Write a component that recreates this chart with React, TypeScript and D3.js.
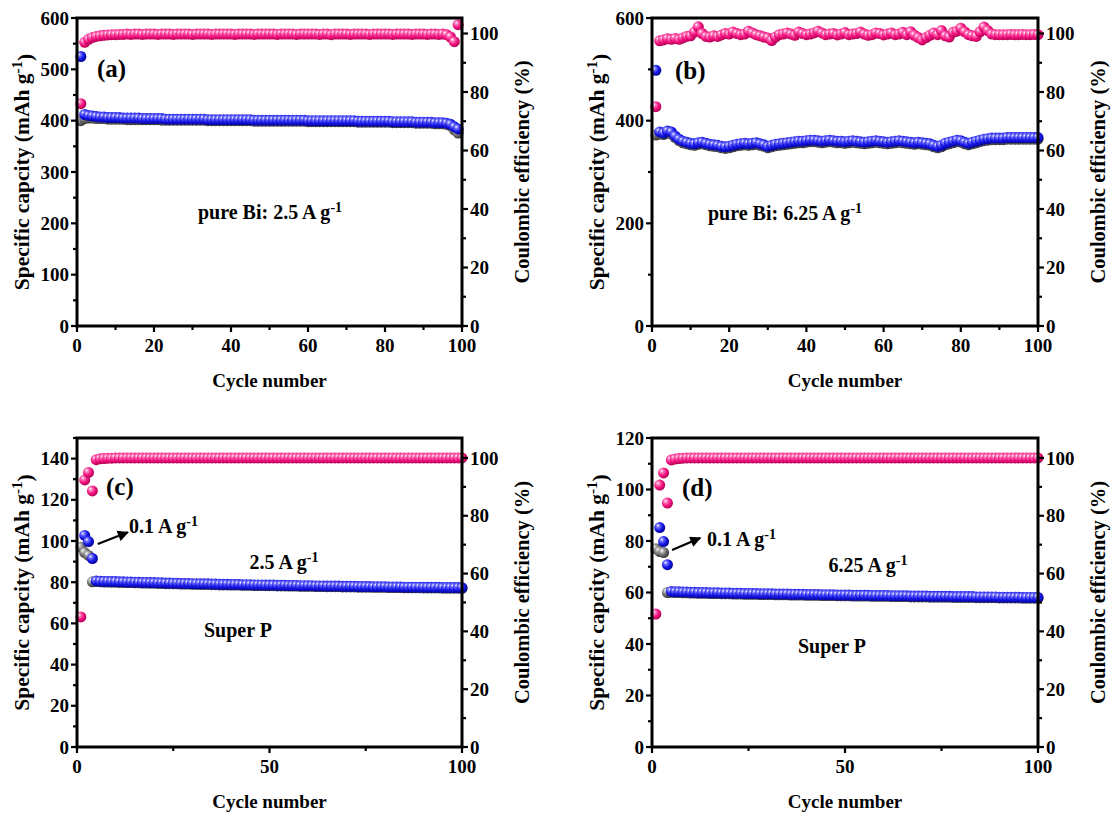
import React from 'react';
import * as d3 from 'd3';

const W = 1113, H = 816;
const FONT = "'Liberation Serif','Times New Roman',serif";

// ---------- Data ----------
// (a) pure Bi, 2.5 A/g, cycles 1..99
const aDischarge = [525,412,410,409,408,407,407,406,406,406, 406,405,405,405,405,405,404,404,404,404, 404,404,403,403,403,403,403,403,403,403, 403,403,403,402,402,402,402,402,402,402, 402,402,402,402,402,401,401,401,401,401, 401,401,401,401,401,401,401,401,401,400, 400,400,400,400,400,400,400,400,400,400, 400,400,399,399,399,399,399,399,399,399, 399,398,398,398,398,398,398,397,397,397, 397,397,396,396,396,395,393,388,384];
const aCharge = [400,404,405,405,404,404,404,403,403,403, 403,403,402,402,402,402,402,402,402,402, 402,401,401,401,401,401,401,401,401,401, 401,401,401,400,400,400,400,400,400,400, 400,400,400,400,400,399,399,399,399,399, 399,399,399,399,399,399,399,399,399,398, 398,398,398,398,398,398,398,398,398,398, 398,398,397,397,397,397,397,397,397,397, 397,396,396,396,396,396,396,395,395,395, 395,395,394,394,394,393,390,382,376];
const aCE = [76,97,98,98.6,99,99.2,99.4,99.5,99.6,99.6, 99.7,99.7,99.8,99.7,99.8,99.8,99.7,99.8,99.8,99.8, 99.7,99.8,99.8,99.8,99.7,99.8,99.8,99.8,99.8,99.7, 99.8,99.8,99.8,99.8,99.7,99.8,99.8,99.8,99.8,99.8, 99.7,99.8,99.8,99.8,99.8,99.7,99.8,99.8,99.8,99.8, 99.8,99.7,99.8,99.8,99.8,99.8,99.7,99.8,99.8,99.8, 99.8,99.8,99.7,99.8,99.8,99.6,99.8,99.8,99.8,99.8, 99.7,99.8,99.8,99.8,99.8,99.7,99.8,99.8,99.8,99.8, 99.8,99.7,99.8,99.8,99.8,99.8,99.7,99.8,99.8,99.8, 99.7,99.8,99.8,99.7,99.8,99.6,98.8,97.2,103];

// (b) pure Bi, 6.25 A/g, cycles 1..100
const bDischarge = [498,378,376,380,378,370,364,360,358,356, 355,357,358,356,354,353,352,350,349,350, 352,354,355,356,355,356,357,355,353,350, 352,354,355,356,357,358,359,360,360,361, 362,362,361,360,361,362,361,360,360,359, 360,361,360,359,358,359,360,361,360,359, 358,359,360,361,360,359,358,357,358,357, 356,355,352,350,352,356,358,360,362,361, 358,356,358,360,362,364,365,366,366,366, 366,367,367,367,367,367,367,367,367,367];
const bCharge = [372,374,373,376,374,367,361,357,355,353, 352,354,355,353,351,350,349,347,346,347, 349,351,352,353,352,353,354,352,350,347, 349,351,352,353,354,355,356,357,357,358, 359,359,358,357,358,359,358,357,357,356, 357,358,357,356,355,356,357,358,357,356, 355,356,357,358,357,356,355,354,355,354, 353,352,349,347,349,353,355,357,359,358, 355,353,355,357,359,361,362,363,363,363, 363,364,364,364,364,364,364,364,364,364];
const bCE = [75,97.5,97.8,98.2,98,98.3,98,98.5,99,99.2, 100.5,102.3,100,99,98.8,99.2,99,99.5,100,99.8, 100.5,100,99.6,99.8,100.8,100.2,99.6,99.2,98.8,98.5, 97.6,98.8,99.6,99.8,100.2,99.8,99.4,100.5,100,99.6, 99.8,100.2,100.8,100.2,99.6,99.8,100,99.5,99.8,100.3, 99.6,99.8,100,100.5,99.8,99.4,99.6,100.2,100,99.5, 99.8,100.2,99.6,99.8,100.4,99.6,100.6,99.4,98.6,97.8, 98.6,99.4,100.2,99.6,101,99.2,98.8,100.4,100.8,101.8, 100.6,99.6,99.2,99,100.6,102.2,101,99.8,99.6,99.6, 99.6,99.6,99.7,99.6,99.6,99.7,99.6,99.6,99.7,99.6];

// (c) Super P, 0.1 A/g then 2.5 A/g, cycles 1..100
const cDischarge = [null,102.7,99.7,91.5,80.6,80.5,80.4,80.4,80.3,80.3, 80.2,80.2,80.1,80.1,80.0,80.0,79.9,79.9,79.8,79.8, 79.7,79.7,79.6,79.6,79.5,79.5,79.4,79.4,79.4,79.3, 79.3,79.2,79.2,79.2,79.1,79.1,79.0,79.0,79.0,78.9, 78.9,78.9,78.8,78.8,78.8,78.7,78.7,78.7,78.6,78.6, 78.6,78.5,78.5,78.5,78.4,78.4,78.4,78.3,78.3,78.3, 78.3,78.2,78.2,78.2,78.1,78.1,78.1,78.1,78.0,78.0, 78.0,78.0,77.9,77.9,77.9,77.9,77.8,77.8,77.8,77.8, 77.7,77.7,77.7,77.7,77.6,77.6,77.6,77.6,77.6,77.5, 77.5,77.5,77.5,77.5,77.4,77.4,77.4,77.4,77.4,77.3];
const cCharge = [97,94.4,93,80.2,80.3,80.2,80.1,80.1,80.0,80.0, 79.9,79.9,79.8,79.8,79.7,79.7,79.6,79.6,79.5,79.5, 79.4,79.4,79.3,79.3,79.2,79.2,79.1,79.1,79.1,79.0, 79.0,78.9,78.9,78.9,78.8,78.8,78.7,78.7,78.7,78.6, 78.6,78.6,78.5,78.5,78.5,78.4,78.4,78.4,78.3,78.3, 78.3,78.2,78.2,78.2,78.1,78.1,78.1,78.0,78.0,78.0, 78.0,77.9,77.9,77.9,77.8,77.8,77.8,77.8,77.7,77.7, 77.7,77.7,77.6,77.6,77.6,77.6,77.5,77.5,77.5,77.5, 77.4,77.4,77.4,77.4,77.3,77.3,77.3,77.3,77.3,77.2, 77.2,77.2,77.2,77.2,77.1,77.1,77.1,77.1,77.1,77.0];
const cCE = [45,92.4,95,88.6,99.4,99.7,99.8,99.9,99.9,100, 100,100,100,100,100,100,100,100,100,100, 100,100,100,100,100,100,100,100,100,100, 100,100,100,100,100,100,100,100,100,100, 100,100,100,100,100,100,100,100,100,100, 100,100,100,100,100,100,100,100,100,100, 100,100,100,100,100,100,100,100,100,100, 100,100,100,100,100,100,100,100,100,100, 100,100,100,100,100,100,100,100,100,100, 100,100,100,100,100,100,100,100,100,100];

// (d) Super P, 0.1 A/g then 6.25 A/g, cycles 1..100
const dDischarge = [null,85.2,79.8,70.8,60.4,60.3,60.3,60.2,60.2,60.1, 60.1,60.0,60.0,60.0,59.9,59.9,59.9,59.8,59.8,59.8, 59.7,59.7,59.7,59.6,59.6,59.6,59.6,59.5,59.5,59.5, 59.5,59.4,59.4,59.4,59.4,59.3,59.3,59.3,59.3,59.2, 59.2,59.2,59.2,59.1,59.1,59.1,59.1,59.0,59.0,59.0, 59.0,58.9,58.9,58.9,58.9,58.9,58.8,58.8,58.8,58.8, 58.8,58.7,58.7,58.7,58.7,58.7,58.6,58.6,58.6,58.6, 58.6,58.5,58.5,58.5,58.5,58.5,58.5,58.4,58.4,58.4, 58.4,58.4,58.4,58.3,58.3,58.3,58.3,58.3,58.3,58.2, 58.2,58.2,58.2,58.2,58.2,58.1,58.1,58.1,58.1,58.1];
const dCharge = [77,75.9,75.5,60.0,60.1,60.0,60.0,59.9,59.9,59.8, 59.8,59.7,59.7,59.7,59.6,59.6,59.6,59.5,59.5,59.5, 59.4,59.4,59.4,59.3,59.3,59.3,59.3,59.2,59.2,59.2, 59.2,59.1,59.1,59.1,59.1,59.0,59.0,59.0,59.0,58.9, 58.9,58.9,58.9,58.8,58.8,58.8,58.8,58.7,58.7,58.7, 58.7,58.6,58.6,58.6,58.6,58.6,58.5,58.5,58.5,58.5, 58.5,58.4,58.4,58.4,58.4,58.4,58.3,58.3,58.3,58.3, 58.3,58.2,58.2,58.2,58.2,58.2,58.2,58.1,58.1,58.1, 58.1,58.1,58.1,58.0,58.0,58.0,58.0,58.0,58.0,57.9, 57.9,57.9,57.9,57.9,57.9,57.8,57.8,57.8,57.8,57.8];
const dCE = [46,90.6,94.8,84.4,99.3,99.6,99.8,99.9,100,100, 100,100,100,100,100,100,100,100,100,100, 100,100,100,100,100,100,100,100,100,100, 100,100,100,100,100,100,100,100,100,100, 100,100,100,100,100,100,100,100,100,100, 100,100,100,100,100,100,100,100,100,100, 100,100,100,100,100,100,100,100,100,100, 100,100,100,100,100,100,100,100,100,100, 100,100,100,100,100,100,100,100,100,100, 100,100,100,100,100,100,100,100,100,100];

// tick settings
const xTicksTop = [0, 20, 40, 60, 80, 100];
const xTicksBottom = [0, 50, 100];
const ceTicks = [0, 20, 40, 60, 80, 100];

type Ann = { text: string; sup?: string; x: number; y: number; size: number; anchor?: string };
type PanelDef = {
  box: { l: number; r: number; t: number; b: number };
  yMax: number; yMajor: number; yMinor: number;
  y2Max: number;
  xMajor: number[]; xMinorStep: number;
  charge: (number | null)[]; discharge: (number | null)[]; ce: (number | null)[];
  anns: Ann[];
  arrow?: { x1: number; y1: number; x2: number; y2: number };
};

const ANN_FS = 20;

const panels: PanelDef[] = [
  {
    box: { l: 77, r: 462, t: 18, b: 326 }, yMax: 600, yMajor: 100, yMinor: 50, y2Max: 105.3,
    xMajor: xTicksTop, xMinorStep: 10,
    charge: aCharge, discharge: aDischarge, ce: aCE,
    anns: [
      { text: '(a)', x: 97, y: 77, size: 25 },
      { text: 'pure Bi: 2.5 A g', sup: '-1', x: 270, y: 219, size: ANN_FS, anchor: 'middle' },
    ],
  },
  {
    box: { l: 652, r: 1038, t: 18, b: 326 }, yMax: 600, yMajor: 200, yMinor: 100, y2Max: 105.3,
    xMajor: xTicksTop, xMinorStep: 10,
    charge: bCharge, discharge: bDischarge, ce: bCE,
    anns: [
      { text: '(b)', x: 675, y: 79, size: 25 },
      { text: 'pure Bi: 6.25 A g', sup: '-1', x: 785, y: 220, size: ANN_FS, anchor: 'middle' },
    ],
  },
  {
    box: { l: 77, r: 462, t: 438, b: 747 }, yMax: 150, yMajor: 20, yMinor: 10, y2Max: 106.9,
    xMajor: xTicksBottom, xMinorStep: 25,
    charge: cCharge, discharge: cDischarge, ce: cCE,
    anns: [
      { text: '(c)', x: 106, y: 495, size: 25 },
      { text: '0.1 A g', sup: '-1', x: 129, y: 533, size: ANN_FS },
      { text: '2.5 A g', sup: '-1', x: 284, y: 569, size: ANN_FS, anchor: 'middle' },
      { text: 'Super P', x: 238, y: 637, size: ANN_FS, anchor: 'middle' },
    ],
    arrow: { x1: 5.4, y1: 98.5, x2: 13.2, y2: 104.2 },
  },
  {
    box: { l: 652, r: 1038, t: 438, b: 747 }, yMax: 120, yMajor: 20, yMinor: 10, y2Max: 106.9,
    xMajor: xTicksBottom, xMinorStep: 25,
    charge: dCharge, discharge: dDischarge, ce: dCE,
    anns: [
      { text: '(d)', x: 682, y: 496, size: 25 },
      { text: '0.1 A g', sup: '-1', x: 707, y: 546, size: ANN_FS },
      { text: '6.25 A g', sup: '-1', x: 868, y: 572, size: ANN_FS, anchor: 'middle' },
      { text: 'Super P', x: 832, y: 653, size: ANN_FS, anchor: 'middle' },
    ],
    arrow: { x1: 5.2, y1: 76.5, x2: 12.5, y2: 81.2 },
  },
];

const R = 5.5;
const TICK_FS = 19;

function Panel({ p }: { p: PanelDef }) {
  const { l, r, t, b } = p.box;
  const x = d3.scaleLinear().domain([0, 100]).range([l, r]);
  const y = d3.scaleLinear().domain([0, p.yMax]).range([b, t]);
  const y2 = d3.scaleLinear().domain([0, p.y2Max]).range([b, t]);
  const yMajor = d3.range(0, p.yMax + 0.001, p.yMajor);
  const yMinor = d3.range(0, p.yMax + 0.001, p.yMinor).filter(v => Math.abs(v / p.yMajor - Math.round(v / p.yMajor)) > 1e-6);
  const y2Minor = d3.range(10, 101, 20);
  const xMinor = d3.range(0, 100.001, p.xMinorStep).filter(v => !p.xMajor.includes(v));
  const pts = (arr: (number | null)[], sc: d3.ScaleLinear<number, number>) =>
    arr.map((v, i) => (v == null ? null : { cx: x(i + 1), cy: sc(v), k: i })).filter(Boolean) as { cx: number; cy: number; k: number }[];
  const sw = 2.2;
  const midY = (t + b) / 2;
  return (
    <g>
      {pts(p.charge, y).map(d => <circle key={'g' + d.k} cx={d.cx} cy={d.cy} r={R} fill="url(#ballGray)" />)}
      {pts(p.discharge, y).map(d => <circle key={'b' + d.k} cx={d.cx} cy={d.cy} r={R} fill="url(#ballBlue)" />)}
      {pts(p.ce, y2).map(d => <circle key={'p' + d.k} cx={d.cx} cy={d.cy} r={R} fill="url(#ballPink)" />)}
      <rect x={l} y={t} width={r - l} height={b - t} fill="none" stroke="#000" strokeWidth={3} />
      {yMajor.map(v => (
        <g key={'yl' + v}>
          <line x1={l - 6} x2={l} y1={y(v)} y2={y(v)} stroke="#000" strokeWidth={sw} />
          <text x={l - 8} y={y(v)} dy="0.35em" textAnchor="end" fontSize={TICK_FS} fontWeight="bold" fontFamily={FONT}>{v}</text>
        </g>
      ))}
      {yMinor.map(v => <line key={'ylm' + v} x1={l - 4} x2={l} y1={y(v)} y2={y(v)} stroke="#000" strokeWidth={sw} />)}
      {ceTicks.map(v => (
        <g key={'yr' + v}>
          <line x1={r} x2={r + 6} y1={y2(v)} y2={y2(v)} stroke="#000" strokeWidth={sw} />
          <text x={r + 8} y={y2(v)} dy="0.35em" textAnchor="start" fontSize={TICK_FS} fontWeight="bold" fontFamily={FONT}>{v}</text>
        </g>
      ))}
      {y2Minor.map(v => <line key={'yrm' + v} x1={r} x2={r + 4} y1={y2(v)} y2={y2(v)} stroke="#000" strokeWidth={sw} />)}
      {p.xMajor.map(v => (
        <g key={'x' + v}>
          <line x1={x(v)} x2={x(v)} y1={b} y2={b + 6} stroke="#000" strokeWidth={sw} />
          <text x={x(v)} y={b + 26} textAnchor="middle" fontSize={TICK_FS} fontWeight="bold" fontFamily={FONT}>{v}</text>
        </g>
      ))}
      {xMinor.map(v => <line key={'xm' + v} x1={x(v)} x2={x(v)} y1={b} y2={b + 4} stroke="#000" strokeWidth={sw} />)}
      <text x={(l + r) / 2} y={b + 61} textAnchor="middle" fontSize={19} fontWeight="bold" fontFamily={FONT}>Cycle number</text>
      <text transform={`translate(${l - 48},${midY}) rotate(-90)`} textAnchor="middle" fontSize={21.5} fontWeight="bold" fontFamily={FONT}>
        Specific capcity (mAh g<tspan dy="-0.45em" fontSize="15">-1</tspan><tspan dy="0.45em">)</tspan>
      </text>
      <text transform={`translate(${r + 67},${midY}) rotate(-90)`} textAnchor="middle" fontSize={20.5} fontWeight="bold" fontFamily={FONT}>Coulombic efficiency (%)</text>
      {p.anns.map((a, i) => (
        <text key={'a' + i} x={a.x} y={a.y} textAnchor={(a.anchor as any) || 'start'} fontSize={a.size} fontWeight="bold" fontFamily={FONT}>
          {a.text}
          {a.sup ? <tspan dy="-0.5em" fontSize={a.size * 0.7}>{a.sup}</tspan> : null}
        </text>
      ))}
      {p.arrow ? (
        <line x1={x(p.arrow.x1)} y1={y(p.arrow.y1)} x2={x(p.arrow.x2)} y2={y(p.arrow.y2)} stroke="#000" strokeWidth={2.2} markerEnd="url(#arrowHead)" />
      ) : null}
    </g>
  );
}

function Ball({ id, light, base, dark }: { id: string; light: string; base: string; dark: string }) {
  return (
    <radialGradient id={id} cx="40%" cy="40%" r="65%" fx="32%" fy="30%">
      <stop offset="0%" stopColor="#ffffff" />
      <stop offset="22%" stopColor={light} />
      <stop offset="60%" stopColor={base} />
      <stop offset="100%" stopColor={dark} />
    </radialGradient>
  );
}

export default function App() {
  return (
    <svg width={W} height={H} style={{ position: 'absolute', left: 0, top: 0, background: '#fff' }}>
      <defs>
        <Ball id="ballPink" light="#ff7fbf" base="#f2127e" dark="#a8004f" />
        <Ball id="ballBlue" light="#7a7aff" base="#1717e8" dark="#00008a" />
        <Ball id="ballGray" light="#bdbdbd" base="#6a6a6a" dark="#2e2e2e" />
        <marker id="arrowHead" viewBox="0 0 10 10" refX="9" refY="5" markerWidth="6" markerHeight="5" orient="auto" markerUnits="strokeWidth">
          <path d="M0,0 L10,5 L0,10 z" fill="#000" />
        </marker>
      </defs>
      <rect width={W} height={H} fill="#fff" />
      {panels.map((p, i) => <Panel key={i} p={p} />)}
    </svg>
  );
}
